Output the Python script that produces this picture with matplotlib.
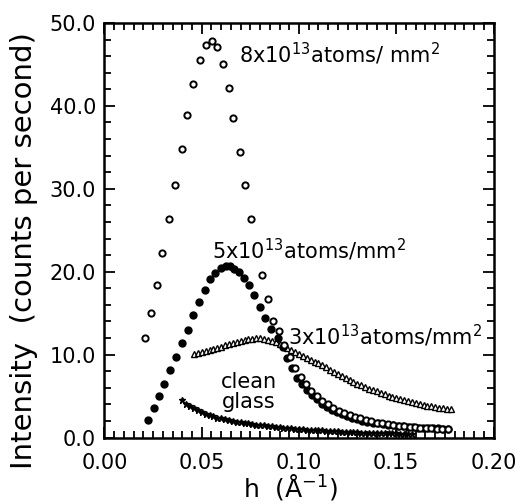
import numpy as np
import matplotlib.pyplot as plt
from matplotlib.ticker import MultipleLocator, FormatStrFormatter

# --- 8x10^13 atoms/mm^2 (open circles) ---
h_8 = [0.0208, 0.0237, 0.0270, 0.0297, 0.0330, 0.0362, 0.0397, 0.0424, 0.0456,
       0.0491, 0.0520, 0.0551, 0.0577, 0.0608, 0.0638, 0.0662, 0.0697, 0.0724,
       0.0752, 0.0811, 0.0842, 0.0868, 0.0897, 0.0925, 0.0953, 0.0980, 0.1008,
       0.1036, 0.1064, 0.1092, 0.1120, 0.1148, 0.1176, 0.1204, 0.1232, 0.1260,
       0.1288, 0.1316, 0.1344, 0.1372, 0.1400, 0.1428, 0.1456, 0.1484, 0.1512,
       0.1540, 0.1568, 0.1596, 0.1624, 0.1652, 0.1680, 0.1708, 0.1736, 0.1764]
I_8 = [12.0, 15.0, 18.4, 22.2, 26.3, 30.5, 34.8, 38.9, 42.6,
       45.5, 47.3, 47.8, 47.1, 45.1, 42.2, 38.5, 34.4, 30.4,
       26.4, 19.6, 16.7, 14.1, 12.8, 11.2, 9.7, 8.4, 7.3,
       6.4, 5.6, 5.0, 4.4, 4.0, 3.6, 3.25, 2.95, 2.7,
       2.5, 2.3, 2.1, 1.95, 1.8, 1.7, 1.6, 1.5, 1.4,
       1.35, 1.3, 1.25, 1.2, 1.15, 1.1, 1.05, 1.0, 1.0]

# --- 5x10^13 atoms/mm^2 (filled circles) ---
h_5 = [0.0222, 0.0253, 0.0279, 0.0306, 0.0337, 0.0368, 0.0398, 0.0428, 0.0456,
       0.0486, 0.0515, 0.0544, 0.0570, 0.0597, 0.0623, 0.0645, 0.0668, 0.0693,
       0.0717, 0.0744, 0.0768, 0.0799, 0.0825, 0.0854, 0.0893, 0.0919, 0.0940,
       0.0962, 0.0988, 0.1014, 0.1040, 0.1066, 0.1092, 0.1118, 0.1144, 0.1170,
       0.1196, 0.1222, 0.1248, 0.1274, 0.1300, 0.1326, 0.1352, 0.1378, 0.1404,
       0.1430, 0.1456, 0.1482, 0.1508, 0.1534, 0.1560, 0.1586, 0.1612, 0.1638,
       0.1664, 0.1690, 0.1716, 0.1742, 0.1768]
I_5 = [2.1, 3.6, 5.0, 6.5, 8.1, 9.7, 11.4, 13.0, 14.8,
       16.3, 17.8, 19.1, 19.9, 20.5, 20.7, 20.7, 20.3, 20.0,
       19.3, 18.4, 17.2, 15.8, 14.4, 13.1, 12.0, 10.9, 9.6,
       8.4, 7.2, 6.4, 5.7, 5.1, 4.6, 4.1, 3.7, 3.35,
       3.05, 2.8, 2.55, 2.35, 2.2, 2.05, 1.9, 1.8, 1.7,
       1.6, 1.5, 1.45, 1.4, 1.35, 1.3, 1.25, 1.2, 1.2,
       1.15, 1.1, 1.1, 1.05, 1.05]

# --- 3x10^13 atoms/mm^2 (open triangles) ---
h_3 = [0.046, 0.048, 0.050, 0.052, 0.054, 0.056, 0.058, 0.060, 0.062, 0.064,
       0.066, 0.068, 0.070, 0.072, 0.074, 0.076, 0.078, 0.080, 0.082, 0.084,
       0.086, 0.088, 0.090, 0.092, 0.094, 0.096, 0.098, 0.100, 0.102, 0.104,
       0.106, 0.108, 0.110, 0.112, 0.114, 0.116, 0.118, 0.120, 0.122, 0.124,
       0.126, 0.128, 0.130, 0.132, 0.134, 0.136, 0.138, 0.140, 0.142, 0.144,
       0.146, 0.148, 0.150, 0.152, 0.154, 0.156, 0.158, 0.160, 0.162, 0.164,
       0.166, 0.168, 0.170, 0.172, 0.174, 0.176, 0.178]
I_3 = [10.1, 10.2, 10.3, 10.4, 10.5, 10.65, 10.8, 10.95, 11.1, 11.25,
       11.4, 11.55, 11.65, 11.75, 11.85, 11.9, 11.95, 11.95, 11.9, 11.8,
       11.65, 11.5, 11.3, 11.05, 10.8, 10.55, 10.3, 10.05, 9.85, 9.6,
       9.4, 9.15, 8.95, 8.7, 8.45, 8.2, 7.95, 7.7, 7.45, 7.2,
       6.95, 6.7, 6.5, 6.3, 6.1, 5.9, 5.7, 5.55, 5.4, 5.2,
       5.05, 4.9, 4.75, 4.6, 4.5, 4.35, 4.25, 4.15, 4.0, 3.9,
       3.85, 3.75, 3.65, 3.6, 3.5, 3.45, 3.4]

# --- clean glass (small filled stars) ---
h_clean = [0.040, 0.042, 0.044, 0.046, 0.048, 0.050, 0.052, 0.054, 0.056, 0.058,
           0.060, 0.062, 0.064, 0.066, 0.068, 0.070, 0.072, 0.074, 0.076, 0.078,
           0.080, 0.082, 0.084, 0.086, 0.088, 0.090, 0.092, 0.094, 0.096, 0.098,
           0.100, 0.102, 0.104, 0.106, 0.108, 0.110, 0.112, 0.114, 0.116, 0.118,
           0.120, 0.122, 0.124, 0.126, 0.128, 0.130, 0.132, 0.134, 0.136, 0.138,
           0.140, 0.142, 0.144, 0.146, 0.148, 0.150, 0.152, 0.154, 0.156, 0.158]
I_clean = [4.5, 4.1, 3.75, 3.5, 3.3, 3.05, 2.85, 2.7, 2.55, 2.4,
           2.3, 2.2, 2.1, 2.0, 1.9, 1.85, 1.75, 1.7, 1.6, 1.55,
           1.5, 1.45, 1.4, 1.35, 1.3, 1.25, 1.2, 1.15, 1.1, 1.05,
           1.0, 1.0, 0.95, 0.9, 0.9, 0.85, 0.85, 0.8, 0.8, 0.75,
           0.75, 0.7, 0.7, 0.7, 0.65, 0.65, 0.6, 0.6, 0.6, 0.55,
           0.55, 0.55, 0.5, 0.5, 0.5, 0.5, 0.45, 0.45, 0.45, 0.45]

fig = plt.figure(figsize=(5.16, 5.03), dpi=100)
ax = fig.add_axes([0.2025, 0.1302, 0.754, 0.8241])

ax.plot(h_clean, I_clean, linestyle='none', marker='*', markersize=5,
        color='black')
ax.plot(h_3, I_3, linestyle='none', marker='^', markersize=4,
        markerfacecolor='white', markeredgecolor='black', markeredgewidth=1.0)
ax.plot(h_5, I_5, linestyle='none', marker='o', markersize=5,
        color='black')
ax.plot(h_8, I_8, linestyle='none', marker='o', markersize=4.5,
        markerfacecolor='white', markeredgecolor='black', markeredgewidth=1.4)

ax.set_xlim(0, 0.20)
ax.set_ylim(0, 50)
ax.xaxis.set_major_locator(MultipleLocator(0.05))
ax.xaxis.set_minor_locator(MultipleLocator(0.005))
ax.yaxis.set_major_locator(MultipleLocator(10))
ax.yaxis.set_minor_locator(MultipleLocator(2))
ax.xaxis.set_major_formatter(FormatStrFormatter('%.2f'))
ax.yaxis.set_major_formatter(FormatStrFormatter('%.1f'))
ax.tick_params(which='both', direction='in', top=True, right=True,
               width=1.3, labelsize=15)
ax.tick_params(which='major', length=8)
ax.tick_params(which='minor', length=5)
ax.tick_params(axis='x', which='major', pad=11)
ax.tick_params(axis='y', which='major', pad=6)
for s in ax.spines.values():
    s.set_linewidth(1.8)

ax.set_xlabel(r'h  ($\mathrm{\AA}^{-1}$)', fontsize=18)
ax.xaxis.set_label_coords(0.477, -0.083)
ax.set_ylabel('Intensity  (counts per second)', fontsize=21)
ax.yaxis.set_label_coords(-0.17, 0.452)

fs = 15
ax.text(0.069, 46.3, r'8x10$^{13}$atoms/ mm$^{2}$', fontsize=fs, va='center')
ax.text(0.0551, 22.6, r'5x10$^{13}$atoms/mm$^{2}$', fontsize=fs, va='center')
ax.text(0.0945, 12.2, r'3x10$^{13}$atoms/mm$^{2}$', fontsize=fs, va='center')
ax.text(0.0743, 5.5, 'clean\nglass', fontsize=fs, va='center', ha='center',
        linespacing=0.95)

fig.savefig('out.png', dpi=100)
